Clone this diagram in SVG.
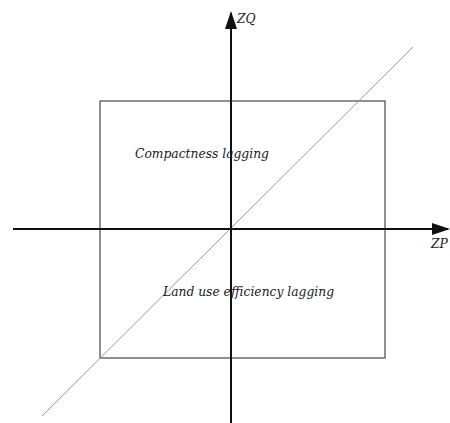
<svg xmlns="http://www.w3.org/2000/svg" width="450" height="423" viewBox="0 0 450 423">
<style>
.axis{stroke:#111;stroke-width:2;fill:none}
.box{stroke:#555;stroke-width:1.3;fill:none}
.diag{stroke:#999;stroke-width:1;fill:none}
.lbl{font-family:"DejaVu Serif","Liberation Serif",serif;font-style:italic;font-size:12.3px;fill:#1a1a1a}
</style>
<defs>
<marker id="arr" viewBox="0 0 18 12" refX="16" refY="6" markerWidth="18" markerHeight="12" markerUnits="userSpaceOnUse" orient="auto">
<path d="M0,0 L18,6 L0,12 Z" fill="#111"/>
</marker>
</defs>
<rect width="450" height="423" fill="#fff"/>
<g id="box"><rect class="box" x="100" y="101" width="285" height="257"/></g>
<g id="connectors">
<line class="diag" x1="42" y1="416" x2="413" y2="47"/>
<line class="axis" x1="231" y1="423" x2="231" y2="13" marker-end="url(#arr)"/>
<line class="axis" x1="13" y1="229" x2="448" y2="229" marker-end="url(#arr)"/>
</g>
<g id="label-zq"><text class="lbl" x="237" y="23">ZQ</text></g>
<g id="label-zp"><text class="lbl" x="431" y="248">ZP</text></g>
<g id="label-compact"><text class="lbl" x="135" y="158">Compactness lagging</text></g>
<g id="label-land"><text class="lbl" x="163" y="296">Land use efficiency lagging</text></g>
</svg>
